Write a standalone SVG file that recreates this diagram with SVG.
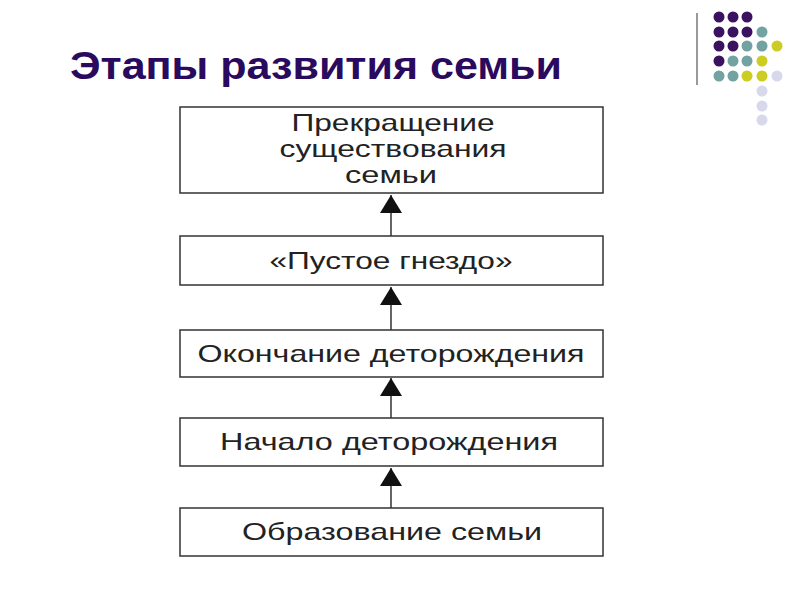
<svg xmlns="http://www.w3.org/2000/svg" width="800" height="600" viewBox="0 0 800 600">
<style>
.box{fill:#fff;stroke:#333;stroke-width:1.5}
.lbl{font-family:"Liberation Sans",Arial,sans-serif;font-size:24px;fill:#222;text-anchor:middle}
.con{stroke:#333;stroke-width:1.5;fill:none}
.p{fill:#3a1260}.t{fill:#72a2a2}.y{fill:#cccc22}.l{fill:#d8d8ec}
</style>
<defs>
<marker id="ah" viewBox="0 0 18 22" refX="18" refY="11" markerWidth="18" markerHeight="22" markerUnits="userSpaceOnUse" orient="auto">
<path d="M0 0 L18 11 L0 22 Z" fill="#111"/>
</marker>
</defs>
<rect width="800" height="600" fill="#fff"/>
<g id="decor">
<line x1="697" y1="13" x2="697" y2="85" stroke="#999" stroke-width="2"/>
<circle class="p" cx="719" cy="17" r="5.5"/><circle class="p" cx="733" cy="17" r="5.5"/><circle class="p" cx="747" cy="17" r="5.5"/>
<circle class="p" cx="719" cy="32" r="5.5"/><circle class="p" cx="733" cy="32" r="5.5"/><circle class="p" cx="747" cy="32" r="5.5"/><circle class="t" cx="762" cy="32" r="5.5"/>
<circle class="p" cx="719" cy="46" r="5.5"/><circle class="p" cx="733" cy="46" r="5.5"/><circle class="t" cx="747" cy="46" r="5.5"/><circle class="t" cx="762" cy="46" r="5.5"/><circle class="y" cx="777" cy="46" r="5.5"/>
<circle class="p" cx="719" cy="61" r="5.5"/><circle class="t" cx="733" cy="61" r="5.5"/><circle class="t" cx="747" cy="61" r="5.5"/><circle class="y" cx="762" cy="61" r="5.5"/>
<circle class="t" cx="719" cy="76" r="5.5"/><circle class="t" cx="733" cy="76" r="5.5"/><circle class="y" cx="747" cy="76" r="5.5"/><circle class="y" cx="762" cy="76" r="5.5"/><circle class="l" cx="777" cy="76" r="5.5"/>
<circle class="l" cx="762" cy="91" r="5.5"/><circle class="l" cx="762" cy="106" r="5.5"/><circle class="l" cx="762" cy="120" r="5.5"/>
</g>
<text id="title" x="70" y="79" font-family="Liberation Sans,Arial,sans-serif" font-size="39" font-weight="bold" fill="#2a0a5e" textLength="492" lengthAdjust="spacingAndGlyphs">Этапы развития семьи</text>
<g id="connectors">
<line class="con" x1="391" y1="236" x2="391" y2="195" marker-end="url(#ah)"/>
<line class="con" x1="391" y1="330" x2="391" y2="287" marker-end="url(#ah)"/>
<line class="con" x1="391" y1="418" x2="391" y2="378" marker-end="url(#ah)"/>
<line class="con" x1="391" y1="508" x2="391" y2="468" marker-end="url(#ah)"/>
</g>
<g id="n1"><rect class="box" x="180" y="107" width="423" height="86"/>
<text class="lbl" x="393" y="131" textLength="203" lengthAdjust="spacingAndGlyphs">Прекращение</text><text class="lbl" x="393" y="157" textLength="227" lengthAdjust="spacingAndGlyphs">существования</text><text class="lbl" x="391" y="183" textLength="92" lengthAdjust="spacingAndGlyphs">семьи</text></g>
<g id="n2"><rect class="box" x="180" y="236" width="423" height="49"/><text class="lbl" x="391" y="269" textLength="243" lengthAdjust="spacingAndGlyphs">«Пустое гнездо»</text></g>
<g id="n3"><rect class="box" x="180" y="330" width="423" height="47"/><text class="lbl" x="391" y="362" textLength="387" lengthAdjust="spacingAndGlyphs">Окончание деторождения</text></g>
<g id="n4"><rect class="box" x="180" y="418" width="423" height="48"/><text class="lbl" x="389" y="450" textLength="338" lengthAdjust="spacingAndGlyphs">Начало деторождения</text></g>
<g id="n5"><rect class="box" x="180" y="508" width="423" height="48"/><text class="lbl" x="392" y="540" textLength="300" lengthAdjust="spacingAndGlyphs">Образование семьи</text></g>
</svg>
